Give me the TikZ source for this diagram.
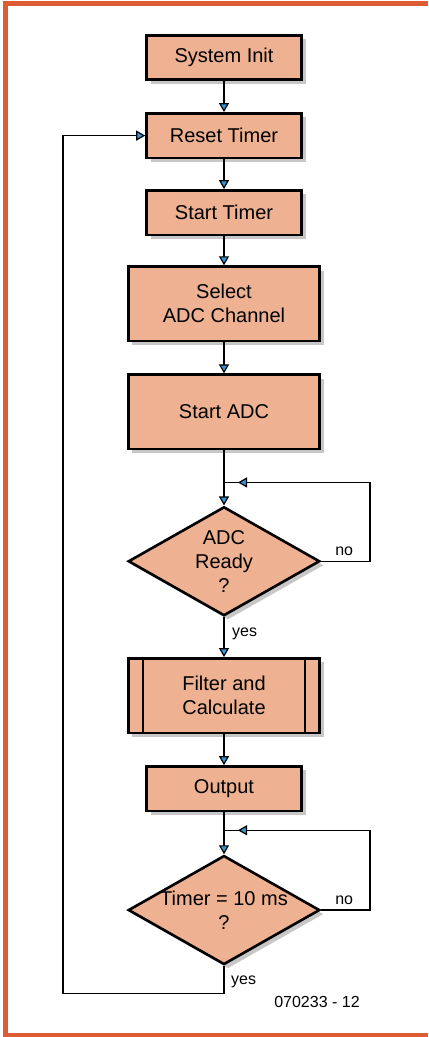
\documentclass[tikz,border=0pt]{standalone}
\usepackage{fontspec}
\setmainfont{Liberation Sans}
\usetikzlibrary{positioning, arrows.meta, shapes.geometric, shadows}
\definecolor{boxfill}{RGB}{238,177,145}
\definecolor{framecol}{RGB}{221,92,52}
\definecolor{tipblue}{RGB}{52,150,214}

\begin{document}
\begin{tikzpicture}[
  x=1bp, y=-1bp,
  node distance=30bp,
  font=\fontsize{20bp}{24bp}\selectfont,
  boxshadow/.style={drop shadow={shadow xshift=4bp, shadow yshift=-4bp, fill=black!22, opacity=1}},
  box/.style={draw, line width=2.6bp, fill=boxfill, boxshadow, align=center, minimum width=155bp, minimum height=44.5bp, inner sep=0pt},
  bigbox/.style={box, minimum width=191.5bp, minimum height=74.5bp},
  decision/.style={diamond, draw, line width=2.6bp, fill=boxfill, boxshadow, align=center, aspect=1.75, minimum width=191.5bp, minimum height=109bp, inner xsep=-9bp, inner ysep=0pt},
  arrow/.style={-{Triangle[width=10bp, length=9bp, fill=tipblue]}, line width=1.2bp},
  line/.style={line width=1.2bp},
  tag/.style={font=\fontsize{16bp}{19bp}\selectfont, inner sep=0pt}
]
\useasboundingbox (0,0) rectangle (428,1037);

% frame
\fill[framecol] (3,1) rectangle (428,6);
\fill[framecol] (3,1) rectangle (7.5,1037);
\fill[framecol] (3,1033) rectangle (428,1037);

% steps
\node[box] (init) at (224,57.5) {System Init};
\node[box, below=31bp of init] (reset) {Reset Timer};
\node[box, below=30bp of reset] (stimer) {Start Timer};
\node[bigbox, below=29bp of stimer] (select) {Select\\ADC Channel};
\node[bigbox, below=31bp of select] (sadc) {Start ADC};
\node[decision, below=55bp of sadc] (ready) {ADC\\Ready\\?};
\node[bigbox, below=40bp of ready] (filter) {Filter and\\Calculate};
\node[box, below=31bp of filter] (output) {Output};
\node[decision, below=42bp of output] (timer) {Timer = 10 ms\\?};

\draw[line width=1.3bp] ([xshift=16bp]filter.north west) -- ([xshift=16bp]filter.south west);
\draw[line width=1.3bp] ([xshift=-16bp]filter.north east) -- ([xshift=-16bp]filter.south east);

% main flow
\draw[arrow] (init) -- (reset);
\draw[arrow] (reset) -- (stimer);
\draw[arrow] (stimer) -- (select);
\draw[arrow] (select) -- (sadc);
\draw[arrow] (sadc) -- (ready);
\draw[arrow] (ready) -- (filter);
\draw[arrow] (filter) -- (output);
\draw[arrow] (output) -- (timer);

% wait loops
\coordinate[below=32bp of sadc.south] (join1);
\coordinate[right=146bp of join1] (loop1);
\draw[line] (ready.east) -| (loop1) -- (join1);
\draw[arrow] (loop1) -- ([xshift=14bp]join1);

\coordinate[below=18bp of output.south] (join2);
\coordinate[right=146bp of join2] (loop2);
\draw[line] (timer.east) -| (loop2) -- (join2);
\draw[arrow] (loop2) -- ([xshift=14bp]join2);

% back to reset
\coordinate[below=28bp of timer.south] (join3);
\coordinate[left=161bp of join3] (back);
\draw[arrow] (timer.south) -- (join3) -- (back) |- (reset.west);

% labels
\node[tag, above right=5bp and 14bp of ready.east] (no1) {no};
\node[tag, below right=11bp and 8bp of ready.south] (yes1) {yes};
\node[tag, above right=5bp and 14bp of timer.east] (no2) {no};
\node[tag, below right=10bp and 7bp of timer.south] (yes2) {yes};
\node[tag] (code) at (317,1002) {070233 - 12};
\end{tikzpicture}
\end{document}
